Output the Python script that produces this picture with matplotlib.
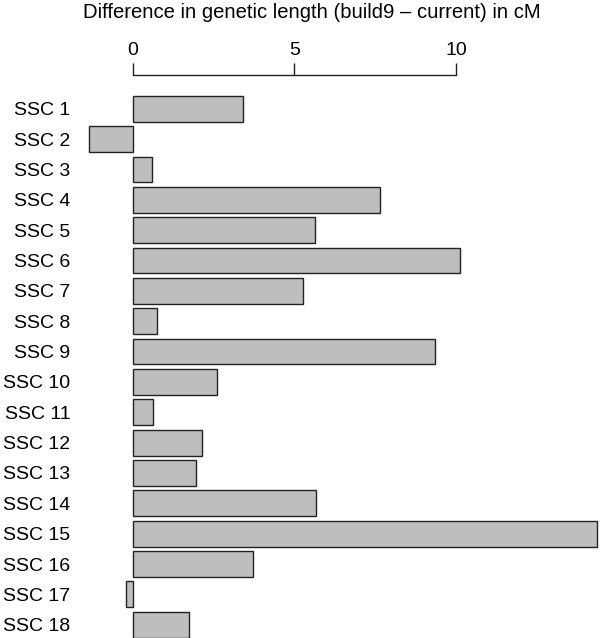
import matplotlib
matplotlib.use('Agg')
import matplotlib.pyplot as plt

plt.rcParams['font.family'] = ['Liberation Sans', 'DejaVu Sans']

chroms = ['SSC %d' % i for i in range(1, 19)]
diff_cm = [3.41, -1.36, 0.60, 7.66, 5.63, 10.11, 5.26, 0.75, 9.35,
           2.61, 0.63, 2.14, 1.96, 5.67, 14.36, 3.72, -0.22, 1.73]
xticks = [0, 5, 10]

fig = plt.figure(figsize=(6, 6.38), dpi=100)
# axes: left edge at 80px, top spine at 75px from the top
ax = fig.add_axes([80 / 600, 0, 520 / 600, 563 / 638])

ypos = list(range(1, len(chroms) + 1))
ax.barh(ypos, diff_cm, height=0.85, color='#bebebe', edgecolor='#222222', linewidth=1.0)

ax.set_xlim(-1.630, 14.45)
ax.set_ylim(18.437, -0.114)

ax.set_yticks(ypos)
ax.set_yticklabels(chroms, fontsize=14)
ax.tick_params(axis='y', length=0, pad=7)

ax.xaxis.tick_top()
ax.set_xticks(xticks)
ax.set_xticklabels([str(t) for t in xticks], fontsize=14)
ax.tick_params(axis='x', direction='out', length=9, width=1.0, pad=2.5, color='#222222')

for s in ['left', 'right', 'bottom']:
    ax.spines[s].set_visible(False)
ax.spines['top'].set_bounds(0, 10)
ax.spines['top'].set_linewidth(1.0)
ax.spines['top'].set_color('#222222')

fig.text(312 / 600, 1 - 13 / 638, 'Difference in genetic length (build9 \u2013 current) in cM',
         ha='center', va='center', fontsize=14.6)

fig.savefig('out.png', dpi=100)
